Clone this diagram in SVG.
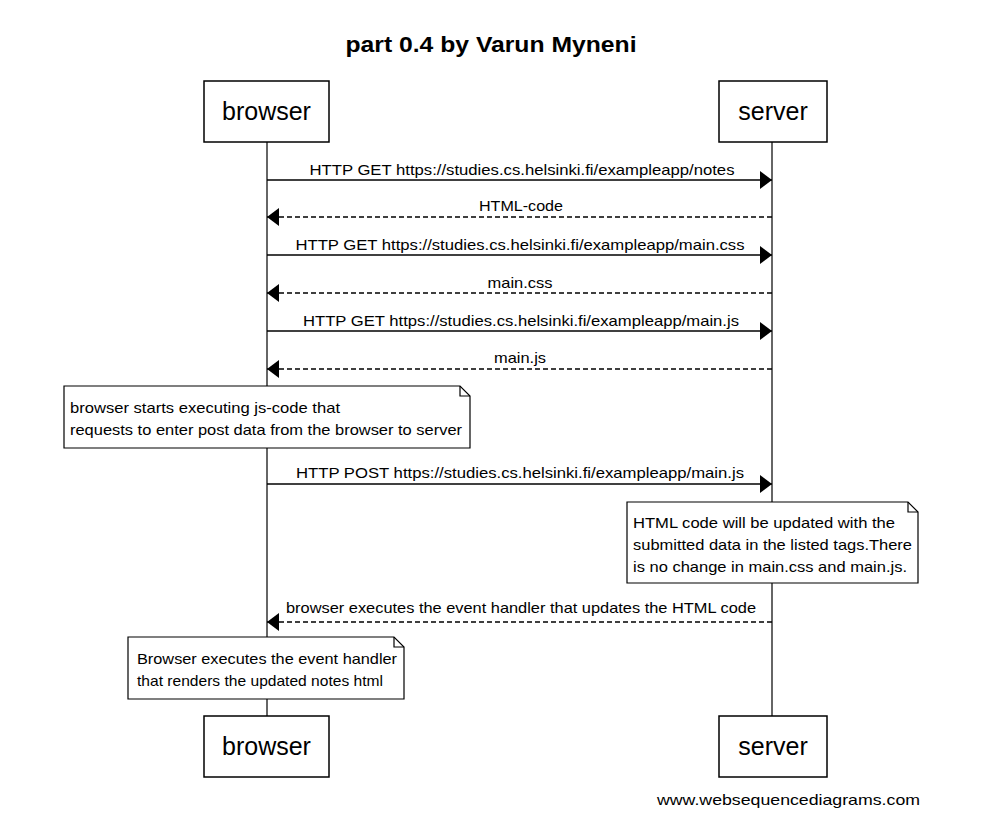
<svg xmlns="http://www.w3.org/2000/svg" width="982" height="830" viewBox="0 0 982 830">
<defs>
<style>
.box{fill:#fff;stroke:#000;stroke-width:1.5}
.lbl{font-family:"Liberation Sans",Arial,sans-serif;font-size:25px;fill:#000;text-anchor:middle}
.life{stroke:#333;stroke-width:1.5}
.msg{stroke:#000;stroke-width:1.3;fill:none}
.dash{stroke-dasharray:5,3}
.t{font-family:"Liberation Sans",Arial,sans-serif;font-size:14.5px;fill:#000}
.mid{text-anchor:middle}
.note{fill:#fff;stroke:#000;stroke-width:1.2}
.fold{fill:none;stroke:#000;stroke-width:1.2}
</style>
<marker id="ah" viewBox="0 0 12 18" refX="12" refY="9" markerWidth="12" markerHeight="18" markerUnits="userSpaceOnUse" orient="auto">
<path d="M0,0 L12,9 L0,18 Z" fill="#000"/>
</marker>
</defs>
<rect width="982" height="830" fill="#fff"/>
<text x="491" y="52" font-family="Liberation Sans,Arial,sans-serif" font-size="22" font-weight="bold" text-anchor="middle" textLength="291" lengthAdjust="spacingAndGlyphs">part 0.4 by Varun Myneni</text>

<g id="lifelines">
<line class="life" x1="267" y1="142" x2="267" y2="716"/>
<line class="life" x1="772" y1="142" x2="772" y2="716"/>
</g>

<g id="browser-top"><rect class="box" x="204" y="81" width="125" height="61"/><text class="lbl" x="266.5" y="120">browser</text></g>
<g id="server-top"><rect class="box" x="719" y="81" width="108" height="61"/><text class="lbl" x="773" y="120">server</text></g>
<g id="browser-bottom"><rect class="box" x="204" y="716" width="125" height="61"/><text class="lbl" x="266.5" y="755">browser</text></g>
<g id="server-bottom"><rect class="box" x="719" y="716" width="108" height="61"/><text class="lbl" x="773" y="755">server</text></g>

<g id="connectors">
<line class="msg" x1="267" y1="180" x2="772" y2="180" marker-end="url(#ah)"/>
<text class="t mid" x="522" y="175" textLength="425" lengthAdjust="spacingAndGlyphs">HTTP GET https://studies.cs.helsinki.fi/exampleapp/notes</text>
<line class="msg dash" x1="772" y1="217" x2="267" y2="217" marker-end="url(#ah)"/>
<text class="t mid" x="521" y="211" textLength="84" lengthAdjust="spacingAndGlyphs">HTML-code</text>
<line class="msg" x1="267" y1="255" x2="772" y2="255" marker-end="url(#ah)"/>
<text class="t mid" x="520" y="250" textLength="449" lengthAdjust="spacingAndGlyphs">HTTP GET https://studies.cs.helsinki.fi/exampleapp/main.css</text>
<line class="msg dash" x1="772" y1="293" x2="267" y2="293" marker-end="url(#ah)"/>
<text class="t mid" x="520" y="288" textLength="65" lengthAdjust="spacingAndGlyphs">main.css</text>
<line class="msg" x1="267" y1="331" x2="772" y2="331" marker-end="url(#ah)"/>
<text class="t mid" x="521" y="326" textLength="436" lengthAdjust="spacingAndGlyphs">HTTP GET https://studies.cs.helsinki.fi/exampleapp/main.js</text>
<line class="msg dash" x1="772" y1="369" x2="267" y2="369" marker-end="url(#ah)"/>
<text class="t mid" x="520" y="363" textLength="52" lengthAdjust="spacingAndGlyphs">main.js</text>
<line class="msg" x1="267" y1="484" x2="772" y2="484" marker-end="url(#ah)"/>
<text class="t mid" x="520" y="478" textLength="448" lengthAdjust="spacingAndGlyphs">HTTP POST https://studies.cs.helsinki.fi/exampleapp/main.js</text>
<line class="msg dash" x1="772" y1="622" x2="267" y2="622" marker-end="url(#ah)"/>
<text class="t mid" x="521" y="613" textLength="470" lengthAdjust="spacingAndGlyphs">browser executes the event handler that updates the HTML code</text>
</g>

<g id="note1">
<path class="note" d="M64,386 H460 L470,396 V448 H64 Z"/>
<path class="fold" d="M460,386 V396 H470"/>
<text class="t" x="70" y="413" textLength="270" lengthAdjust="spacingAndGlyphs">browser starts executing js-code that</text>
<text class="t" x="70" y="435" textLength="392" lengthAdjust="spacingAndGlyphs">requests to enter post data from the browser to server</text>
</g>

<g id="note2">
<path class="note" d="M627,502 H908 L918,512 V583 H627 Z"/>
<path class="fold" d="M908,502 V512 H918"/>
<text class="t" x="633" y="528" textLength="262" lengthAdjust="spacingAndGlyphs">HTML code will be updated with the</text>
<text class="t" x="633" y="550" textLength="279" lengthAdjust="spacingAndGlyphs">submitted data in the listed tags.There</text>
<text class="t" x="633" y="572" textLength="274" lengthAdjust="spacingAndGlyphs">is no change in main.css and main.js.</text>
</g>

<g id="note3">
<path class="note" d="M128,637 H394 L404,647 V699 H128 Z"/>
<path class="fold" d="M394,637 V647 H404"/>
<text class="t" x="137" y="664" textLength="260" lengthAdjust="spacingAndGlyphs">Browser executes the event handler</text>
<text class="t" x="137" y="686" textLength="246" lengthAdjust="spacingAndGlyphs">that renders the updated notes html</text>
</g>

<text class="t" x="657" y="805" textLength="263" lengthAdjust="spacingAndGlyphs">www.websequencediagrams.com</text>
</svg>
